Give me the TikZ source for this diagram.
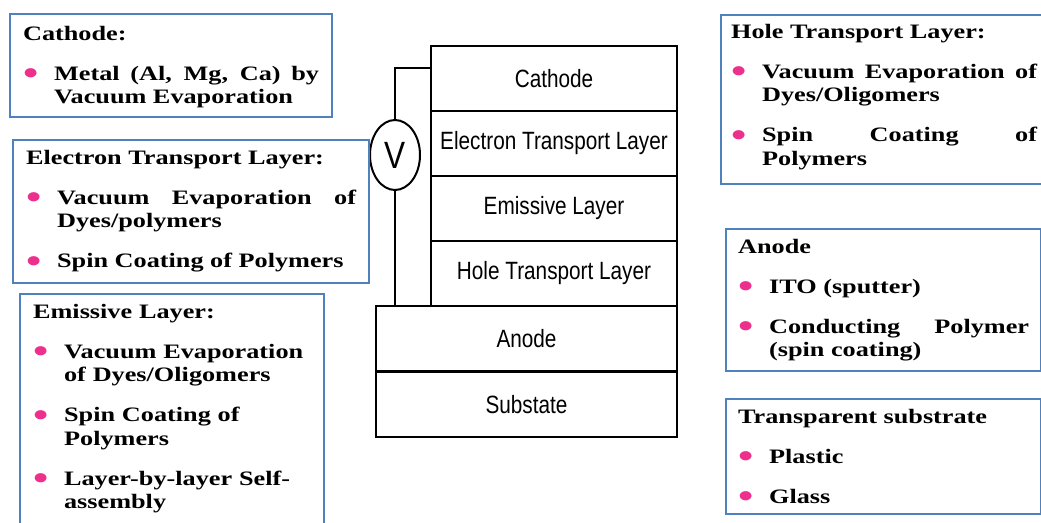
\documentclass[tikz,border=0pt]{standalone}
\usepackage{fontspec}
\usetikzlibrary{shapes.geometric}
\newfontfamily\boxfont[FakeStretch=1.28]{Liberation Serif}
\newfontfamily\layerfont[FakeStretch=0.83]{Liberation Sans}
\definecolor{boxblue}{RGB}{79,129,189}
\definecolor{dotpink}{RGB}{236,48,140}
\tolerance=10000
\hbadness=10000
\hyphenpenalty=10000
\newcommand{\dotitem}[1]{\vspace{16.5pt}\hangindent=31pt\hangafter=1\noindent\makebox[31pt][l]{\textcolor{dotpink}{\raisebox{-4.5pt}{\fontsize{34}{0}\selectfont\textbullet}}}#1\par}
\tikzset{
    infobox/.style={draw=boxblue, line width=2.2pt, anchor=north west, inner xsep=13pt, inner ysep=0pt, align=justify, font=\boxfont\bfseries\fontsize{20.5}{23.5}\selectfont},
    layer/.style={draw, line width=2.4pt, inner sep=0pt, font=\layerfont\fontsize{25}{28}\selectfont},
    upper/.style={layer, minimum width=246pt, minimum height=65pt},
    lower/.style={layer, minimum width=301pt, minimum height=65.5pt},
    wire/.style={line width=2pt},
}
\begin{document}
\begin{tikzpicture}[x=1pt,y=-1pt]
    \clip (0,0) rectangle (1041,522);
    \node[upper] (cath) at (554,78.5) {Cathode};
    \node[upper] (etl) at (554,143.5) {Electron Transport Layer};
    \node[upper] (eml) at (554,208.5) {Emissive Layer};
    \node[upper] (htl) at (554,273.5) {Hole Transport Layer};
    \node[lower] (anode) at (526.5,338.75) {Anode};
    \node[lower] (subst) at (526.5,404.25) {Substate};
    \node[draw, ellipse, wire, minimum width=50pt, minimum height=70pt, inner sep=0pt, font=\layerfont\fontsize{38}{40}\selectfont] (volt) at (395,155) {V};
    \coordinate (tap) at (431,68);
    \draw[wire] (tap) -| (volt.north);
    \draw[wire] (volt.south) -- (volt.south |- anode.north);
    \node[infobox, text width=296pt, text height=26pt, text depth=77pt] (cathinfo) at (9,13) {Cathode:\par
        \dotitem{Metal (Al, Mg, Ca) by Vacuum Evaporation}};
    \node[infobox, text width=330pt, text height=24pt, text depth=119pt] (etlinfo) at (12,139) {Electron Transport Layer:\par
        \dotitem{Vacuum Evaporation of Dyes/polymers}
        \dotitem{Spin Coating of Polymers}};
    \node[infobox, align=left, text width=278pt, text height=24pt, text depth=230pt] (emlinfo) at (19,293) {Emissive Layer:\par
        \dotitem{Vacuum Evaporation of Dyes/Oligomers}
        \dotitem{Spin Coating of Polymers}
        \dotitem{Layer-by-layer Self-assembly}};
    \node[infobox, inner xsep=10pt, text width=306pt, text height=23pt, text depth=146pt] (htlinfo) at (720,14) {Hole Transport Layer:\par
        \dotitem{Vacuum Evaporation of Dyes/Oligomers}
        \dotitem{Spin Coating of Polymers}};
    \node[infobox, inner xsep=12pt, text width=291pt, text height=24pt, text depth=118pt] (anodeinfo) at (725,228) {Anode\par
        \dotitem{ITO (sputter)}
        \dotitem{Conducting Polymer (spin coating)}};
    \node[infobox, inner xsep=12pt, text width=291pt, text height=24pt, text depth=91pt] (substinfo) at (725,398) {Transparent substrate\par
        \dotitem{Plastic}
        \dotitem{Glass}};
\end{tikzpicture}
\end{document}
